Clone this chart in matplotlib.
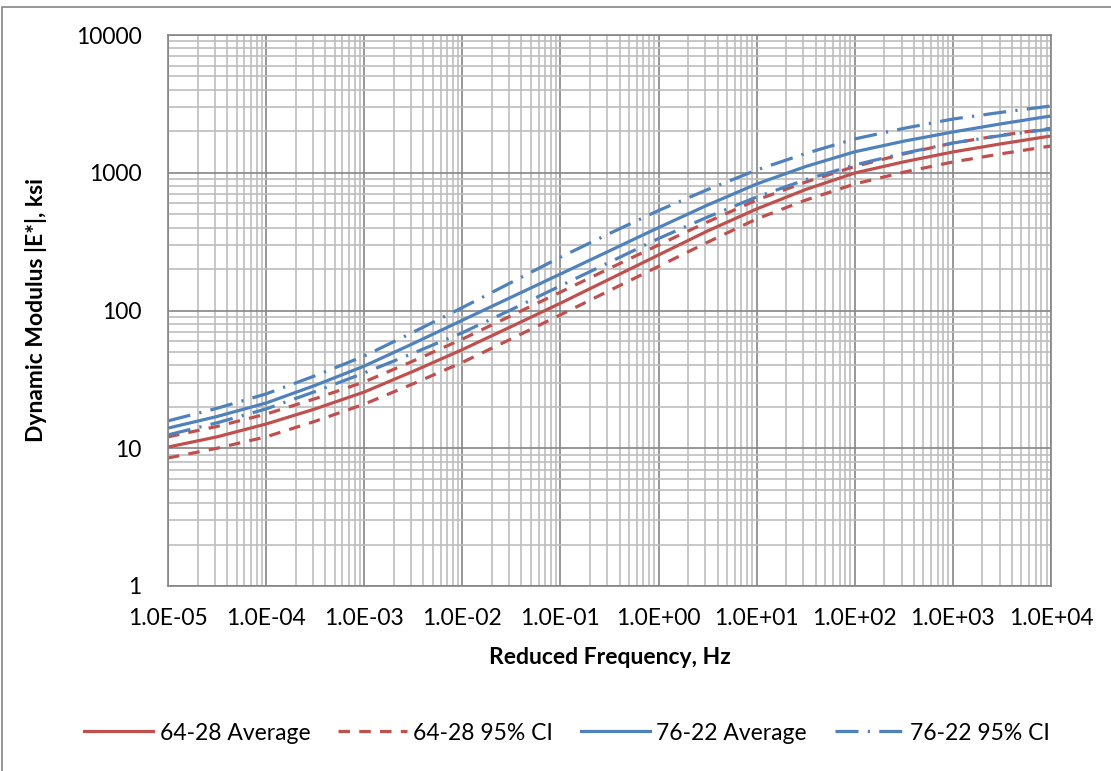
import matplotlib
matplotlib.use("Agg")
import matplotlib.pyplot as plt
from matplotlib.patches import Rectangle
from matplotlib.ticker import FixedLocator, LogLocator, NullFormatter

# Reduced frequency (Hz), half-decade steps
freq = [1e-5, 3.16e-5, 1e-4, 3.16e-4, 1e-3, 3.16e-3, 1e-2, 3.16e-2, 1e-1, 3.16e-1,
        1e0, 3.16e0, 1e1, 3.16e1, 1e2, 3.16e2, 1e3, 3.16e3, 1e4]

# |E*| master curves, ksi
avg_6428 = [10.2, 12.1, 15.0, 19.3, 25.6, 36.2, 52, 76.5, 113, 169,
            253, 378, 546, 756, 996, 1200, 1416, 1625, 1849]
ci_lo_6428 = [8.5, 10.0, 12.1, 15.7, 20.9, 29.4, 42, 62.3, 93, 139.5,
              209, 313, 462, 633, 829, 1010, 1197, 1375, 1564]
ci_hi_6428 = [12.1, 14.4, 17.7, 22.9, 30.3, 43.0, 62, 91.8, 136, 202,
              299, 440, 634, 856, 1110, 1370, 1644, 1875, 2100]
avg_7622 = [14.0, 17.0, 21.3, 28.6, 39.5, 57.6, 85, 125, 184, 271,
            400, 583, 829, 1110, 1420, 1695, 1977, 2270, 2584]
ci_lo_7622 = [12.5, 15.3, 19.3, 25.8, 35.2, 49.0, 69, 101.5, 151, 224,
              333, 477, 667, 890, 1140, 1385, 1644, 1865, 2080]
ci_hi_7622 = [15.8, 19.5, 24.8, 33.6, 46.7, 69.6, 105, 160, 244, 362,
              532, 755, 1047, 1380, 1760, 2100, 2455, 2750, 3053]

x_ticks = [1e-5, 1e-4, 1e-3, 1e-2, 1e-1, 1e0, 1e1, 1e2, 1e3, 1e4]
x_ticklabels = ["1.0E-05", "1.0E-04", "1.0E-03", "1.0E-02", "1.0E-01",
                "1.0E+00", "1.0E+01", "1.0E+02", "1.0E+03", "1.0E+04"]
y_ticks = [1, 10, 100, 1000, 10000]
y_ticklabels = ["1", "10", "100", "1000", "10000"]

RED = "#C0504D"
BLUE = "#4F81BD"
MAJOR = "#858585"
MINOR = "#BDBDBD"

plt.rcParams["font.family"] = ["Lato", "DejaVu Sans"]

fig = plt.figure(figsize=(11.11, 7.71), dpi=100)
ax = fig.add_axes([168 / 1111, 1 - 586 / 771, (1051 - 168) / 1111, (586 - 35) / 771])

lw = 2.3
ax.plot(freq, avg_6428, color=RED, lw=lw, label="64-28 Average")
ax.plot(freq, ci_lo_6428, color=RED, lw=lw, dashes=(3.6, 2.9), dash_capstyle="butt",
        label="64-28 95% CI")
ax.plot(freq, ci_hi_6428, color=RED, lw=lw, dashes=(3.6, 2.9), dash_capstyle="butt")
ax.plot(freq, avg_7622, color=BLUE, lw=lw, label="76-22 Average")
ax.plot(freq, ci_lo_7622, color=BLUE, lw=lw, dashes=(7.2, 2.9, 0.7, 2.9),
        dash_capstyle="butt", label="76-22 95% CI")
ax.plot(freq, ci_hi_7622, color=BLUE, lw=lw, dashes=(7.2, 2.9, 0.7, 2.9),
        dash_capstyle="butt")

ax.set_xscale("log")
ax.set_yscale("log")
ax.set_xlim(1e-5, 1e4)
ax.set_ylim(1, 10000)

ax.xaxis.set_major_locator(FixedLocator(x_ticks))
ax.set_xticklabels(x_ticklabels)
ax.yaxis.set_major_locator(FixedLocator(y_ticks))
ax.set_yticklabels(y_ticklabels)
ax.xaxis.set_minor_locator(LogLocator(base=10, subs=range(2, 10), numticks=50))
ax.yaxis.set_minor_locator(LogLocator(base=10, subs=range(2, 10), numticks=50))
ax.xaxis.set_minor_formatter(NullFormatter())
ax.yaxis.set_minor_formatter(NullFormatter())

ax.grid(which="minor", color=MINOR, lw=1.2)
ax.grid(which="major", color=MAJOR, lw=1.2)
ax.set_axisbelow(True)
for sp in ax.spines.values():
    sp.set_color(MAJOR)
    sp.set_linewidth(1.2)

ax.tick_params(which="both", length=0)
ax.tick_params(axis="x", labelsize=16.5, pad=16)
ax.tick_params(axis="y", labelsize=16.5, pad=19)

ax.set_xlabel("Reduced Frequency, Hz", fontsize=16.5, fontweight="bold", labelpad=13)
ax.set_ylabel("Dynamic Modulus |E*|, ksi", fontsize=16.5, fontweight="bold", labelpad=21)

handles, labels = ax.get_legend_handles_labels()
fig.legend(handles, labels, loc="center", bbox_to_anchor=(567 / 1111, 1 - 733 / 771),
           ncol=4, frameon=False, fontsize=16.5, handlelength=3.0, handletextpad=0.3,
           columnspacing=1.2)

# chart area border
fig.patches.append(Rectangle((2 / 1111, -0.05), 1.1, 1 - 7 / 771 + 0.05,
                             transform=fig.transFigure, fill=False,
                             edgecolor=MAJOR, lw=1.2))

fig.savefig("out.png", dpi=100)
